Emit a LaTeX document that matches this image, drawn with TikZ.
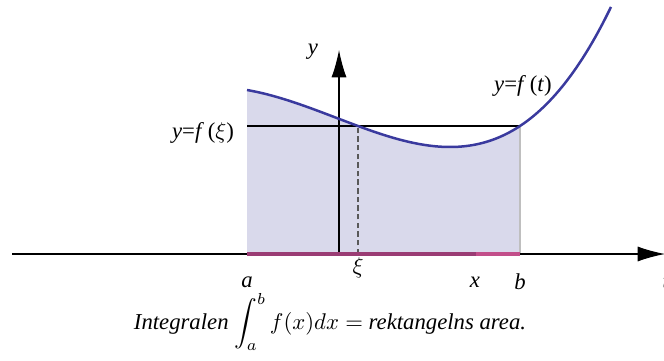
\documentclass[tikz,border=0pt]{standalone}
\usepackage{fontspec}
\setmainfont{Liberation Serif}
\usetikzlibrary{arrows.meta}
\definecolor{curve}{HTML}{3A3A9E}
\definecolor{area}{HTML}{D9D9EB}
\definecolor{pinkdark}{HTML}{9A3C74}
\definecolor{pinklight}{HTML}{C24E8A}

\begin{document}
\begin{tikzpicture}[
x=0.44pt, y=0.44pt,
declare function={u(\x)=(\x-450)/100; f(\x)=213+u(\x)*u(\x)*(34.77+11.24*u(\x)+0.456*u(\x)*u(\x));},
axis/.style={-{Latex[length=12pt, width=6.6pt]}, line width=0.5pt},
graph/.style={draw=curve, line width=1.1pt},
lbl/.style={inner sep=1pt, font=\normalsize}
]
\useasboundingbox (0,0) rectangle (664,360);
% points on the axes
\coordinate (xstart) at (12,106);
\coordinate (xend) at (665,106);
\coordinate (ybase) at (339,106);
\coordinate (yend) at (339,310);
\coordinate (A) at (247,106);
\coordinate (X) at (476,106);
\coordinate (B) at (520,106);
\coordinate (Xi) at (358,106);
\coordinate (Xitop) at (358,{f(358)});
\coordinate (Fa) at (247,{f(358)});
\coordinate (Fb) at (520,{f(358)});
% area under the graph
\fill[area] (A) -- plot[domain=247:520, samples=80] (\x,{f(\x)}) -- (B) -- cycle;
\draw[line width=0.6pt, draw=black!25] (B) -- (Fb);
\draw[line width=0.5pt] (Fa) -- (Fb);
\draw[axis] (ybase) -- (yend);
\draw[line width=0.6pt, draw=black!65, dash pattern=on 2.4pt off 1.4pt] (Xi) -- (Xitop);
\draw[axis] (xstart) -- (xend);
\draw[line width=1.5pt, draw=pinkdark] (A) -- (X);
\draw[line width=1.5pt, draw=pinklight] (X) -- (B);
\draw[graph] plot[domain=247:611, samples=120] (\x,{f(\x)});
% labels
\node[lbl] (ya) at (313,308) {\textit{y}};
\node[lbl] (la) at (247,78) {\textit{a}};
\node[lbl] (lxi) at (358,92) {$\xi$};
\node[lbl] (lx) at (475,78) {\textit{x}};
\node[lbl] (lb) at (520,78) {\textit{b}};
\node[lbl] (lt) at (666,78) {\textit{t}};
\node[lbl] (lfxi) at (203,227) {\textit{y}=\textit{f}\,($\xi$)};
\node[lbl] (lft) at (523,274) {\textit{y}=\textit{f}\,(\textit{t})};
\node[lbl] (cap) at (330,38) {\textit{Integralen} $\displaystyle\int_a^b f(x)dx =$ \textit{rektangelns area.}};
\end{tikzpicture}
\end{document}
